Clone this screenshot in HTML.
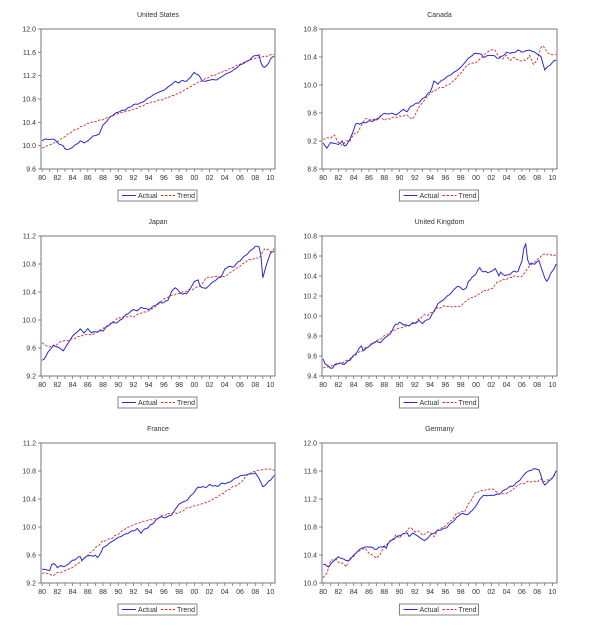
<!DOCTYPE html>
<html><head><meta charset="utf-8">
<style>
html,body{margin:0;padding:0;background:#fff;}
svg{display:block;}
text{font-family:"Liberation Sans",sans-serif;fill:#333;}
</style></head>
<body>
<svg id="s" width="600" height="634" xmlns="http://www.w3.org/2000/svg"></svg>
<script>
const P=[
{t:"United States",x0:41,x1:275,y0:29,y1:169,lo:9.6,hi:12.0,st:0.4,
a:[[80,10.08],[80.5,10.12],[81,10.1],[81.5,10.12],[82,10.05],[82.7,10.0],[83,9.95],[83.5,9.93],[84,9.98],[84.5,10.02],[85,10.08],[85.5,10.05],[86,10.08],[86.7,10.17],[87,10.17],[87.5,10.2],[88,10.35],[88.5,10.42],[89,10.5],[90,10.58],[91,10.62],[92,10.7],[93,10.73],[94,10.82],[95,10.9],[96,10.95],[97,11.05],[97.5,11.1],[98,11.08],[98.5,11.12],[99,11.1],[99.5,11.18],[100,11.25],[100.5,11.22],[101,11.12],[101.5,11.1],[102,11.13],[103,11.13],[104,11.22],[105,11.28],[106,11.38],[107,11.45],[108,11.55],[108.5,11.55],[108.8,11.4],[109.2,11.33],[109.6,11.38],[110,11.48],[110.6,11.55]],
b:[[80,9.96],[82,10.07],[84,10.25],[86,10.38],[88,10.45],[90,10.55],[92,10.62],[94,10.73],[96,10.8],[98,10.9],[100,11.05],[102,11.18],[104,11.28],[106,11.4],[108,11.5],[110,11.55],[110.6,11.58]]},
{t:"Canada",x0:322,x1:557,y0:29,y1:169,lo:8.8,hi:10.8,st:0.4,
a:[[80,9.17],[80.5,9.1],[81,9.18],[82,9.15],[82.5,9.2],[82.8,9.11],[83.5,9.22],[84.3,9.45],[85,9.45],[86,9.48],[87,9.5],[88,9.6],[88.5,9.58],[89,9.6],[89.5,9.57],[90.5,9.65],[91,9.62],[91.5,9.7],[92.5,9.75],[93.5,9.85],[94,9.9],[94.5,10.05],[95,10.02],[96,10.1],[97,10.17],[98,10.25],[99,10.38],[99.8,10.45],[100.5,10.45],[101,10.4],[102,10.43],[103,10.38],[104,10.46],[105,10.46],[105.5,10.5],[106,10.47],[107,10.5],[108,10.45],[108.5,10.4],[109,10.22],[110,10.32],[110.6,10.37]],
b:[[80,9.23],[81,9.25],[81.5,9.28],[82,9.18],[82.5,9.14],[83,9.2],[83.5,9.2],[84,9.3],[84.5,9.32],[85,9.42],[85.5,9.52],[86.5,9.5],[87.5,9.55],[88,9.5],[89,9.53],[90,9.55],[91,9.57],[91.7,9.5],[92.5,9.68],[93,9.75],[94,9.88],[95,9.95],[96,9.98],[97,10.05],[98,10.17],[99,10.3],[100,10.32],[101,10.42],[101.8,10.5],[102.5,10.5],[103,10.4],[103.5,10.38],[104,10.42],[104.5,10.35],[105,10.4],[105.5,10.35],[106.5,10.35],[107,10.42],[107.5,10.3],[108,10.35],[108.6,10.58],[109.5,10.45],[110,10.43],[110.6,10.44]]},
{t:"Japan",x0:41,x1:275,y0:236,y1:376,lo:9.2,hi:11.2,st:0.4,
a:[[80,9.42],[80.5,9.48],[81,9.58],[81.5,9.63],[82,9.62],[82.5,9.58],[82.8,9.56],[83.3,9.65],[84,9.77],[84.5,9.82],[85,9.87],[85.5,9.82],[86,9.87],[86.5,9.82],[87,9.83],[88,9.85],[89,9.95],[90,9.97],[91,10.07],[92,10.15],[92.5,10.13],[93,10.18],[94,10.15],[95,10.22],[95.5,10.25],[96,10.25],[96.5,10.28],[97,10.4],[97.5,10.47],[98,10.4],[98.5,10.37],[99,10.38],[99.5,10.45],[100,10.55],[100.5,10.57],[100.8,10.47],[101.5,10.45],[102.5,10.55],[103.5,10.62],[104,10.72],[104.5,10.77],[105,10.75],[106,10.85],[107,10.95],[108,11.05],[108.5,11.05],[108.8,10.9],[109,10.6],[109.5,10.8],[110,10.95],[110.6,11.0]],
b:[[80,9.68],[80.5,9.63],[81,9.62],[82,9.65],[82.5,9.7],[83,9.7],[84,9.73],[85,9.77],[86,9.8],[86.5,9.78],[87,9.82],[88,9.88],[89,9.95],[90,10.03],[91,10.05],[92,10.05],[93,10.1],[94,10.13],[95,10.2],[96,10.3],[97,10.35],[98,10.38],[99,10.42],[100,10.45],[101,10.5],[101.5,10.6],[102.5,10.62],[103,10.62],[104,10.62],[105,10.7],[106,10.77],[107,10.85],[108,10.88],[108.7,10.9],[109.2,11.03],[110,10.98],[110.6,11.02]]},
{t:"United Kingdom",x0:322,x1:557,y0:236,y1:376,lo:9.4,hi:10.8,st:0.2,
a:[[80,9.57],[80.3,9.52],[80.7,9.49],[81.3,9.48],[81.7,9.53],[82.5,9.52],[83,9.53],[84,9.6],[84.5,9.65],[85,9.7],[85.3,9.65],[86,9.7],[87,9.75],[87.5,9.73],[88,9.78],[88.5,9.8],[89,9.85],[89.5,9.92],[90,9.93],[90.5,9.92],[91,9.9],[91.5,9.92],[92,9.93],[92.5,9.95],[93,9.93],[94,9.98],[94.5,10.05],[95,10.12],[96,10.18],[97,10.25],[97.5,10.3],[98,10.28],[98.7,10.26],[99,10.35],[99.5,10.38],[100,10.43],[100.5,10.48],[101,10.44],[102,10.44],[102.5,10.48],[103,10.4],[103.3,10.45],[103.6,10.4],[104.5,10.42],[105,10.45],[105.5,10.44],[106,10.55],[106.3,10.7],[106.6,10.72],[106.8,10.52],[107.5,10.52],[108.3,10.55],[108.5,10.5],[109,10.37],[109.3,10.35],[110,10.45],[110.6,10.53]],
b:[[80,9.48],[81,9.5],[82,9.52],[83,9.55],[84,9.6],[85,9.65],[86,9.7],[87,9.75],[88,9.8],[89,9.85],[90,9.88],[91,9.9],[92,9.93],[93,10.0],[94,10.02],[95,10.08],[96,10.1],[97,10.09],[98,10.1],[99,10.17],[100,10.2],[101,10.25],[102,10.27],[103,10.35],[104,10.37],[105,10.4],[106,10.39],[106.5,10.45],[107,10.5],[108,10.56],[108.5,10.6],[109,10.62],[110,10.61],[110.6,10.6]]},
{t:"France",x0:41,x1:275,y0:443,y1:583,lo:9.2,hi:11.2,st:0.4,
a:[[80,9.4],[81,9.38],[81.3,9.48],[81.7,9.47],[82,9.42],[82.5,9.45],[83,9.43],[83.5,9.48],[84,9.52],[85,9.58],[85.3,9.52],[86,9.6],[86.5,9.58],[87,9.6],[87.3,9.55],[88,9.7],[89,9.78],[90,9.85],[91,9.9],[92,9.95],[92.5,9.97],[93,9.92],[93.5,9.97],[94,10.0],[95,10.1],[95.5,10.15],[96,10.13],[97,10.17],[97.5,10.25],[98,10.33],[99,10.38],[100,10.5],[100.5,10.57],[101.5,10.57],[102,10.6],[103,10.58],[103.5,10.62],[104.5,10.63],[105,10.67],[106,10.73],[107,10.75],[108,10.77],[108.5,10.7],[109,10.57],[109.5,10.62],[110,10.67],[110.4,10.73],[110.6,10.73]],
b:[[80,9.33],[80.5,9.35],[81,9.32],[81.5,9.31],[82,9.35],[82.5,9.35],[83,9.38],[84,9.42],[85,9.5],[86,9.6],[87,9.7],[88,9.8],[89,9.83],[90,9.9],[91,9.98],[92,10.03],[93,10.07],[94,10.1],[95,10.12],[96,10.17],[97,10.2],[98,10.2],[99,10.27],[100,10.3],[101,10.33],[102,10.37],[103,10.43],[104,10.5],[105,10.57],[106,10.62],[107,10.75],[108,10.8],[109,10.82],[110,10.83],[110.6,10.8]]},
{t:"Germany",x0:322,x1:557,y0:443,y1:583,lo:10.0,hi:12.0,st:0.4,
a:[[80,10.27],[80.7,10.23],[81.5,10.33],[82,10.37],[82.5,10.35],[83,10.32],[83.5,10.33],[84,10.4],[84.5,10.45],[85,10.5],[86,10.52],[87,10.48],[87.5,10.52],[88,10.52],[88.2,10.48],[88.5,10.57],[89.5,10.65],[90,10.68],[91,10.72],[91.3,10.65],[91.7,10.72],[92.5,10.66],[93.3,10.6],[94,10.68],[95,10.75],[96,10.78],[97,10.88],[98,10.99],[99,10.98],[100,11.1],[100.5,11.2],[101,11.25],[102,11.25],[103,11.27],[104,11.35],[105,11.4],[106,11.5],[106.5,11.58],[107,11.6],[107.5,11.63],[108.3,11.62],[108.7,11.45],[109,11.4],[110,11.5],[110.5,11.6],[110.6,11.58]],
b:[[80,10.07],[80.5,10.15],[81,10.32],[81.5,10.35],[82,10.3],[82.5,10.28],[83,10.24],[83.5,10.35],[84,10.38],[84.5,10.45],[85.5,10.5],[86,10.42],[86.5,10.4],[87,10.35],[87.5,10.42],[88,10.52],[89,10.62],[89.5,10.68],[90,10.65],[90.5,10.7],[91.5,10.8],[92,10.72],[92.5,10.75],[93,10.68],[93.5,10.72],[94,10.73],[94.5,10.66],[95,10.75],[96,10.82],[97,10.92],[97.5,11.0],[98.5,11.02],[99,11.12],[100,11.3],[101,11.32],[102,11.35],[102.5,11.32],[103,11.27],[104,11.28],[105,11.35],[105.5,11.4],[106,11.42],[107,11.45],[108,11.45],[108.5,11.48],[109,11.45],[110,11.5],[110.6,11.58]]}
];
const S=document.getElementById('s');let h='';
const X0=79.85,X1=110.6;
function interp(arr,t){if(t<=arr[0][0])return arr[0][1];for(let i=1;i<arr.length;i++){if(t<=arr[i][0]){const a=arr[i-1],b=arr[i];return a[1]+(b[1]-a[1])*(t-a[0])/(b[0]-a[0]);}}return arr[arr.length-1][1];}
P.forEach((p,k)=>{
 const W=p.x1-p.x0,H=p.y1-p.y0;
 const fx=t=>p.x0+(t-X0)/(X1-X0)*W, fy=v=>p.y1-(v-p.lo)/(p.hi-p.lo)*H;
 const cx=(p.x0+p.x1)/2;
 h+=`<text x="${cx}" y="${p.y0-12}" font-size="7" text-anchor="middle">${p.t}</text>`;
 for(let v=p.lo;v<=p.hi+1e-6;v+=p.st){const y=fy(v);h+=`<line x1="${p.x0-3}" y1="${y}" x2="${p.x0}" y2="${y}" stroke="#666" stroke-width="0.8"/><text x="${p.x0-5}" y="${y+2.5}" font-size="7" text-anchor="end">${v.toFixed(1)}</text>`;}
 for(let yr=80;yr<=110;yr++){const x=fx(yr);h+=`<line x1="${x}" y1="${p.y1}" x2="${x}" y2="${p.y1+3}" stroke="#666" stroke-width="0.7"/>`;if(yr%2==0)h+=`<text x="${x}" y="${p.y1+11}" font-size="7" text-anchor="middle">${String(yr%100).padStart(2,'0')}</text>`;}
 ['b','a'].forEach(s=>{let pts=[];for(let t=80;t<=110.6;t+=0.25){let v=interp(p[s],t)+0.006*Math.sin(t*7.3+k+(s=='a'?1:3))+0.004*Math.sin(t*17.1+k);pts.push(fx(t).toFixed(1)+','+fy(v).toFixed(1));}
  h+=s=='a'?`<polyline points="${pts.join(' ')}" fill="none" stroke="#2a2ad0" stroke-width="1"/>`:`<polyline points="${pts.join(' ')}" fill="none" stroke="#d03030" stroke-width="0.9" stroke-dasharray="2.5,1.5"/>`;});
 h+=`<rect x="${p.x0}" y="${p.y0}" width="${W}" height="${H}" fill="none" stroke="#777" stroke-width="1"/>`;
 const lx=cx-40,ly=p.y1+21;
 h+=`<rect x="${lx}" y="${ly}" width="79" height="11" fill="#fff" stroke="#666" stroke-width="0.8"/>`;
 h+=`<line x1="${lx+4}" y1="${ly+5.5}" x2="${lx+18}" y2="${ly+5.5}" stroke="#2a2ad0"/><text x="${lx+20}" y="${ly+8}" font-size="7">Actual</text>`;
 h+=`<line x1="${lx+43}" y1="${ly+5.5}" x2="${lx+57}" y2="${ly+5.5}" stroke="#d03030" stroke-dasharray="2.5,1.5"/><text x="${lx+59}" y="${ly+8}" font-size="7">Trend</text>`;
});
S.innerHTML=h;
</script>
</body></html>
